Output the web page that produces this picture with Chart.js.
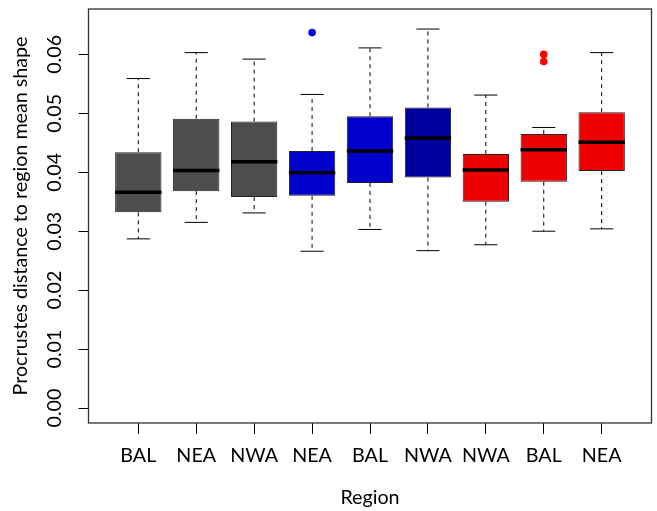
<!DOCTYPE html>
<html>
<head>
<meta charset="utf-8">
<script src="https://cdn.jsdelivr.net/npm/chart.js@4"></script>
<style>
  html, body { margin: 0; padding: 0; background: #fff; }
  #wrap { width: 657px; height: 511px; }
</style>
</head>
<body>
<div id="wrap"><canvas id="myChart" width="657" height="511"></canvas></div>
<script>
// Données
const regions = ['BAL', 'NEA', 'NWA', 'NEA', 'BAL', 'NWA', 'NWA', 'BAL', 'NEA'];
const whiskerLow = [0.0287, 0.0315, 0.0331, 0.0266, 0.0303, 0.0267, 0.0277, 0.0300, 0.0304];
const q1 = [0.0332, 0.0368, 0.0358, 0.0360, 0.0382, 0.0391, 0.0350, 0.0384, 0.0402];
const medians = [0.0366, 0.0403, 0.0418, 0.0399, 0.0436, 0.0458, 0.0404, 0.0438, 0.0451];
const q3 = [0.0434, 0.0491, 0.0486, 0.0436, 0.0495, 0.0510, 0.0431, 0.0465, 0.0502];
const whiskerHigh = [0.0559, 0.0603, 0.0592, 0.0532, 0.0611, 0.0643, 0.0531, 0.0476, 0.0603];
const outlierGroup = [4, 8, 8];
const outlierValue = [0.0637, 0.0600, 0.0588];
const yTicks = [0, 0.01, 0.02, 0.03, 0.04, 0.05, 0.06];

// Couleurs des boîtes
const boxColors = ['#4d4d4d', '#4d4d4d', '#4d4d4d', '#0000cd', '#0000cd', '#00009c', '#ee0000', '#ee0000', '#ee0000'];
const outlierColors = ['#0000e0', '#ff0000', '#ff0000'];

const FONT = 'Lato, "Open Sans", sans-serif';
const FONT_SIZE = 19.7;

// Moustaches, médianes, cadre et étiquettes de l'axe y
const boxplotExtras = {
  id: 'boxplotExtras',
  beforeDatasetsDraw(chart) {
    const { ctx, scales: { x, y } } = chart;
    ctx.save();
    ctx.strokeStyle = '#000';
    ctx.lineWidth = 1;
    regions.forEach((r, i) => {
      const cx = x.getPixelForValue(i + 1);
      const capL = x.getPixelForValue(i + 1 - 0.2);
      const capR = x.getPixelForValue(i + 1 + 0.2);
      // lignes pointillées
      ctx.setLineDash([4, 4]);
      ctx.beginPath();
      ctx.moveTo(cx, y.getPixelForValue(q3[i]));
      ctx.lineTo(cx, y.getPixelForValue(whiskerHigh[i]));
      ctx.moveTo(cx, y.getPixelForValue(q1[i]));
      ctx.lineTo(cx, y.getPixelForValue(whiskerLow[i]));
      ctx.stroke();
      // barres terminales
      ctx.setLineDash([]);
      ctx.beginPath();
      ctx.moveTo(capL, y.getPixelForValue(whiskerHigh[i]));
      ctx.lineTo(capR, y.getPixelForValue(whiskerHigh[i]));
      ctx.moveTo(capL, y.getPixelForValue(whiskerLow[i]));
      ctx.lineTo(capR, y.getPixelForValue(whiskerLow[i]));
      ctx.stroke();
    });
    ctx.restore();
  },
  afterDatasetsDraw(chart) {
    const { ctx, scales: { x, y } } = chart;
    ctx.save();
    ctx.strokeStyle = '#000';
    ctx.lineWidth = 3.5;
    regions.forEach((r, i) => {
      const my = y.getPixelForValue(medians[i]);
      ctx.beginPath();
      ctx.moveTo(x.getPixelForValue(i + 1 - 0.4), my);
      ctx.lineTo(x.getPixelForValue(i + 1 + 0.4), my);
      ctx.stroke();
    });
    ctx.restore();
  },
  afterDraw(chart) {
    const { ctx, chartArea: a, scales: { y } } = chart;
    ctx.save();
    ctx.strokeStyle = '#333';
    ctx.lineWidth = 1.3;
    ctx.strokeRect(a.left, a.top, a.right - a.left, a.bottom - a.top);
    // étiquettes y verticales, comme dans R
    ctx.fillStyle = '#000';
    ctx.font = FONT_SIZE + 'px ' + FONT;
    ctx.textAlign = 'center';
    ctx.textBaseline = 'middle';
    y.ticks.forEach(t => {
      ctx.save();
      ctx.translate(55, y.getPixelForValue(t.value));
      ctx.rotate(-Math.PI / 2);
      ctx.fillText(t.value.toFixed(2), 0, 0);
      ctx.restore();
    });
    ctx.restore();
  }
};

const ctx = document.getElementById('myChart').getContext('2d');

const myChart = new Chart(ctx, {
  type: 'bar',
  data: {
    datasets: [{
      label: 'boxes',
      data: regions.map((r, i) => ({ x: i + 1, y: [q1[i], q3[i]] })),
      backgroundColor: boxColors,
      borderColor: '#222',
      borderWidth: 1,
      borderSkipped: false,
      categoryPercentage: 1,
      barPercentage: 0.8
    }, {
      type: 'scatter',
      label: 'outliers',
      data: outlierGroup.map((g, i) => ({ x: g, y: outlierValue[i] })),
      backgroundColor: outlierColors,
      borderColor: outlierColors,
      borderWidth: 0,
      pointRadius: 3.8
    }]
  },
  options: {
    responsive: false,
    animation: false,
    layout: { padding: { left: 0, right: 5.5, top: 9, bottom: 0 } },
    plugins: {
      legend: { display: false },
      tooltip: { enabled: false }
    },
    scales: {
      x: {
        type: 'linear',
        offset: false,
        min: 0.14,
        max: 9.86,
        afterBuildTicks: scale => {
          scale.ticks = regions.map((r, i) => ({ value: i + 1 }));
        },
        afterFit: scale => { scale.height = 88; },
        ticks: {
          autoSkip: false,
          maxRotation: 0,
          padding: 10,
          color: '#000',
          font: { family: FONT, size: FONT_SIZE },
          callback: v => regions[v - 1]
        },
        grid: {
          offset: false,
          drawOnChartArea: false,
          drawTicks: true,
          tickLength: 11,
          color: '#000',
          lineWidth: 1
        },
        border: { display: false },
        title: {
          display: true,
          text: 'Region',
          color: '#000',
          font: { family: FONT, size: FONT_SIZE },
          padding: { top: 0, bottom: 2 }
        }
      },
      y: {
        type: 'linear',
        min: -0.00254,
        max: 0.0677,
        afterBuildTicks: scale => {
          scale.ticks = yTicks.map(v => ({ value: v }));
        },
        afterFit: scale => { scale.width = 88.5; },
        ticks: { display: false },
        grid: {
          drawOnChartArea: false,
          drawTicks: true,
          tickLength: 10,
          color: '#000',
          lineWidth: 1
        },
        border: { display: false },
        title: {
          display: true,
          text: 'Procrustes distance to region mean shape',
          color: '#000',
          font: { family: FONT, size: FONT_SIZE },
          padding: { top: 9, bottom: 0 }
        }
      }
    }
  },
  plugins: [boxplotExtras]
});
</script>
</body>
</html>
